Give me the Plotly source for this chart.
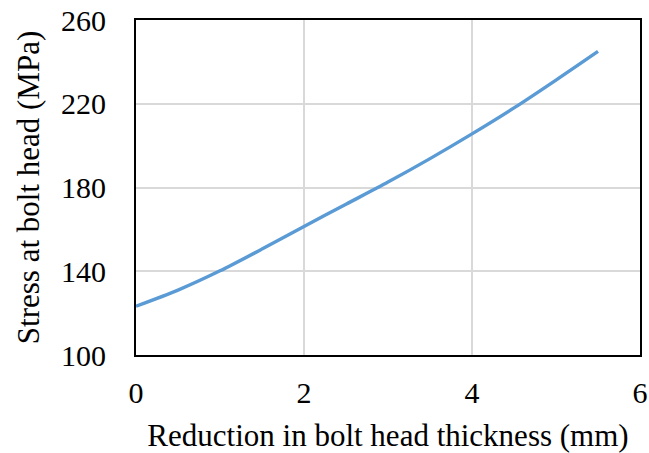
import plotly.graph_objects as go

reduction_mm = [0, 0.5, 1, 1.5, 2, 2.5, 3, 3.5, 4, 4.5, 5, 5.5]
stress_mpa = [123.3, 131.0, 140.2, 150.6, 161.4, 172.0, 182.6, 193.8, 205.6, 218.0, 231.3, 245.0]

x_ticks = [0, 2, 4, 6]
y_ticks = [100, 140, 180, 220, 260]

fig = go.Figure()
fig.add_trace(go.Scatter(
    x=reduction_mm, y=stress_mpa, mode="lines",
    line=dict(color="#5B9BD5", width=3.4, shape="spline", smoothing=0.8),
    showlegend=False,
))

font_family = "Liberation Serif, Times New Roman, serif"
FS = 30
fig.update_layout(
    width=649, height=453,
    margin=dict(l=136, r=9, t=20, b=98),
    paper_bgcolor="white", plot_bgcolor="white",
    font=dict(family=font_family, color="black", size=FS),
)
fig.update_xaxes(
    range=[0, 6], tickvals=x_ticks, ticktext=[str(v) for v in x_ticks],
    showgrid=True, gridcolor="#D9D9D9", gridwidth=1.5,
    showline=True, linecolor="black", linewidth=2, mirror=True,
    ticks="", ticklabelstandoff=10, zeroline=False, automargin=False,
    title=dict(text="Reduction in bolt head thickness (mm)", font=dict(size=31), standoff=22),
    tickfont=dict(size=FS),
)
fig.update_yaxes(
    range=[100, 260], tickvals=y_ticks, ticktext=[str(v) for v in y_ticks],
    showgrid=True, gridcolor="#D9D9D9", gridwidth=1.5,
    showline=True, linecolor="black", linewidth=2, mirror=True,
    ticks="", ticklabelstandoff=22, zeroline=False, automargin=False,
    title=dict(text="Stress at bolt head (MPa)", font=dict(size=31), standoff=12),
    tickfont=dict(size=FS),
)
fig.write_html(
    "out.html",
    config={"displayModeBar": False},
    post_script="document.body.style.margin='0';document.body.style.overflow='hidden';",
)
